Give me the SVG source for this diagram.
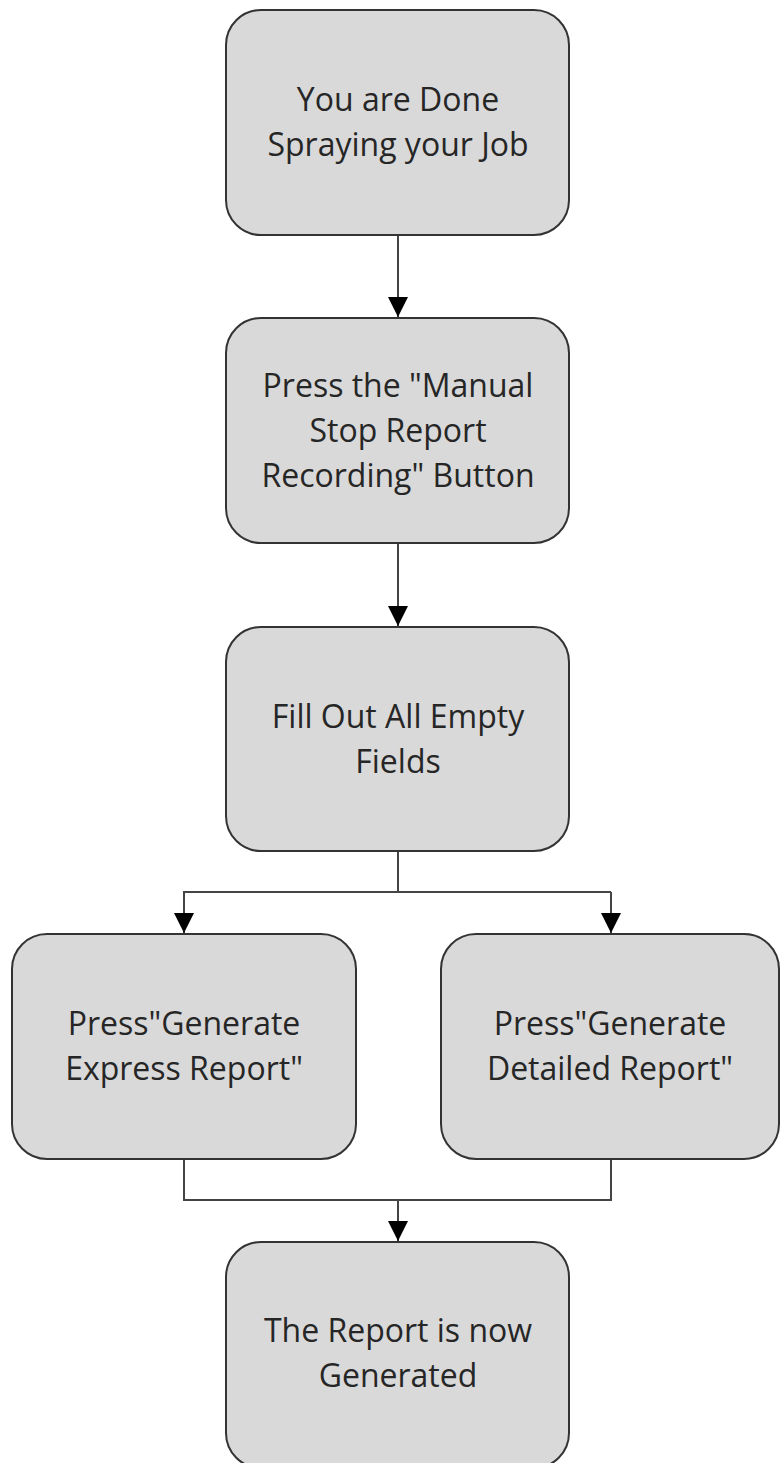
<svg xmlns="http://www.w3.org/2000/svg" width="781" height="1463" viewBox="0 0 781 1463">
<style>
.box{fill:#d9d9d9;stroke:#333;stroke-width:2}
.t{font-family:"Open Sans","Noto Sans",sans-serif;font-size:32px;fill:#262626;text-anchor:middle}
.c{fill:none;stroke:#444;stroke-width:2}
</style>
<defs>
<marker id="ah" markerUnits="userSpaceOnUse" markerWidth="20" markerHeight="20" refX="20" refY="10" orient="auto">
<path d="M0,0 L20,10 L0,20 Z" fill="#000"/>
</marker>
</defs>
<g id="connectors">
<path class="c" d="M398,235 V317" marker-end="url(#ah)"/>
<path class="c" d="M398,543 V626" marker-end="url(#ah)"/>
<path class="c" d="M398,851 V892"/>
<path class="c" d="M183,892 H611"/>
<path class="c" d="M184,892 V933" marker-end="url(#ah)"/>
<path class="c" d="M611,892 V933" marker-end="url(#ah)"/>
<path class="c" d="M184,1159 V1200 H611 V1159"/>
<path class="c" d="M398,1200 V1241" marker-end="url(#ah)"/>
</g>
<g id="n1">
<rect class="box" x="226" y="10" width="343" height="225" rx="35"/>
<text class="t" x="398" y="111">You are Done</text>
<text class="t" x="398" y="156">Spraying your Job</text>
</g>
<g id="n2">
<rect class="box" x="226" y="318" width="343" height="225" rx="35"/>
<text class="t" x="398" y="397">Press the "Manual</text>
<text class="t" x="398" y="442">Stop Report</text>
<text class="t" x="398" y="487">Recording" Button</text>
</g>
<g id="n3">
<rect class="box" x="226" y="627" width="343" height="224" rx="35"/>
<text class="t" x="398" y="728">Fill Out All Empty</text>
<text class="t" x="398" y="773">Fields</text>
</g>
<g id="n4">
<rect class="box" x="12" y="934" width="344" height="225" rx="35"/>
<text class="t" x="184" y="1035">Press"Generate</text>
<text class="t" x="184" y="1080">Express Report"</text>
</g>
<g id="n5">
<rect class="box" x="441" y="934" width="338" height="225" rx="35"/>
<text class="t" x="610" y="1035">Press"Generate</text>
<text class="t" x="610" y="1080">Detailed Report"</text>
</g>
<g id="n6">
<rect class="box" x="226" y="1242" width="343" height="226" rx="35"/>
<text class="t" x="398" y="1342">The Report is now</text>
<text class="t" x="398" y="1387">Generated</text>
</g>
</svg>
